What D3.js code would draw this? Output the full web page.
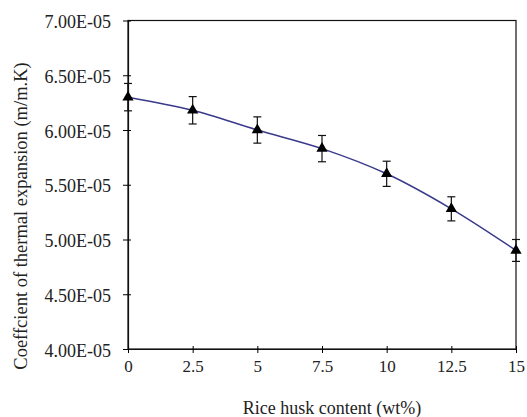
<!DOCTYPE html>
<html>
<head>
<meta charset="utf-8">
<script src="https://cdn.jsdelivr.net/npm/d3@7"></script>
<style>
  body { margin: 0; background: #fff; }
</style>
</head>
<body>
<div id="chart"></div>
<script>
// values (y in units of 1e-5 m/m.K)
let huskContent = [0, 2.5, 5, 7.5, 10, 12.5, 15]
let cte = [6.30, 6.18, 6.00, 5.83, 5.60, 5.28, 4.90]
let cteErr = [0.125, 0.125, 0.12, 0.12, 0.115, 0.11, 0.10]
let xTicks = [0, 2.5, 5, 7.5, 10, 12.5, 15]
let yTicks = [4.0, 4.5, 5.0, 5.5, 6.0, 6.5, 7.0]

let width = 527, height = 417
let plotLeft = 128, plotRight = 516, plotTop = 20.5, plotBottom = 349
let serif = "'Liberation Serif', 'DejaVu Serif', serif"

let svg = d3.select("#chart").append("svg")
  .attr("width", width)
  .attr("height", height)

let x = d3.scaleLinear().domain([0, 15]).range([plotLeft, plotRight])
let y = d3.scaleLinear().domain([4, 7]).range([plotBottom, plotTop])

// frame (top and right border)
svg.append("rect")
  .attr("x", plotLeft).attr("y", plotTop)
  .attr("width", plotRight - plotLeft).attr("height", plotBottom - plotTop)
  .style("fill", "none").style("stroke", "#111").style("stroke-width", 1.2)

// y axis, ticks crossing the line
let yAxis = d3.axisLeft(y)
  .tickValues(yTicks)
  .tickSizeInner(5).tickSizeOuter(0)
  .tickPadding(12)
  .tickFormat(d => d.toFixed(2) + "E-05")
let gy = svg.append("g").attr("transform", "translate(" + plotLeft + ",0)").call(yAxis)
gy.attr("font-family", serif).attr("font-size", 18)
gy.selectAll(".tick line").attr("x1", 3)
gy.select(".domain").attr("stroke", "#111").attr("stroke-width", 1.2)
gy.selectAll(".tick text").attr("fill", "#222").attr("dy", "0.4em")

let xAxis = d3.axisBottom(x)
  .tickValues(xTicks)
  .tickSizeInner(4).tickSizeOuter(0)
  .tickPadding(7)
  .tickFormat(d => d)
let gx = svg.append("g").attr("transform", "translate(0," + plotBottom + ")").call(xAxis)
gx.attr("font-family", serif).attr("font-size", 17)
gx.selectAll(".tick line").attr("y1", -3)
gx.select(".domain").attr("stroke", "#111").attr("stroke-width", 1.2)
gx.selectAll(".tick text").attr("fill", "#222")

// smoothed line
let line = d3.line()
  .x((d, i) => x(huskContent[i]))
  .y(d => y(d))
  .curve(d3.curveCatmullRom)
svg.append("path")
  .datum(cte)
  .attr("d", line)
  .style("fill", "none")
  .style("stroke", "#3a3a8c")
  .style("stroke-width", 1.5)

// error bars
let bars = svg.append("g")
cte.forEach(function (v, i) {
  let cx = x(huskContent[i])
  let y1 = y(v + cteErr[i]), y2 = y(v - cteErr[i])
  bars.append("line").attr("x1", cx).attr("x2", cx).attr("y1", y1).attr("y2", y2)
  bars.append("line").attr("x1", cx - 4).attr("x2", cx + 4).attr("y1", y1).attr("y2", y1)
  bars.append("line").attr("x1", cx - 4).attr("x2", cx + 4).attr("y1", y2).attr("y2", y2)
})
bars.selectAll("line").style("stroke", "#111").style("stroke-width", 1.2)

// triangle markers
svg.selectAll(".marker")
  .data(cte)
  .enter().append("path")
  .attr("class", "marker")
  .attr("d", d3.symbol().type(d3.symbolTriangle).size(55))
  .attr("transform", (d, i) => "translate(" + x(huskContent[i]) + "," + y(d) + ")")
  .style("fill", "#000")

// axis titles
svg.append("text")
  .attr("x", 332).attr("y", 414)
  .attr("text-anchor", "middle")
  .attr("font-family", serif).attr("font-size", 18).attr("fill", "#222")
  .text("Rice husk content (wt%)")

svg.append("text")
  .attr("transform", "translate(27,216) rotate(-90)")
  .attr("text-anchor", "middle")
  .attr("font-family", serif).attr("font-size", 18.5).attr("fill", "#222")
  .text("Coeffcient of thermal expansion (m/m.K)")
</script>
</body>
</html>
